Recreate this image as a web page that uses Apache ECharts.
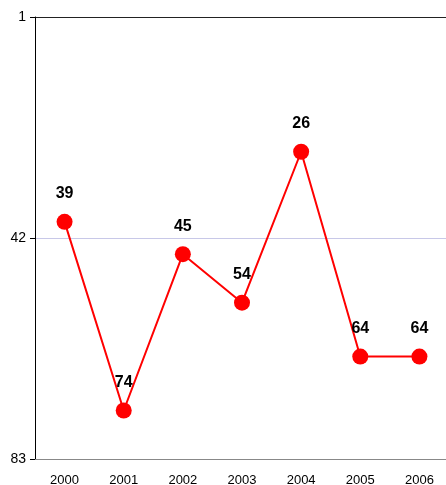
<!DOCTYPE html>
<html>
<head>
<meta charset="utf-8">
<script src="https://cdn.jsdelivr.net/npm/echarts@6/dist/echarts.min.js"></script>
<style>
  html, body { margin: 0; padding: 0; background: #fff; }
  #chart { width: 446px; height: 485px; }
</style>
</head>
<body>
<div id="chart"></div>
<script>
var years = ['2000', '2001', '2002', '2003', '2004', '2005', '2006'];
var ranks = [39, 74, 45, 54, 26, 64, 64];
var yTicks = [1, 42, 83];

var chart = echarts.init(document.getElementById('chart'));
var option = {
  animation: false,
  grid: { left: 35, right: -3, top: 17, bottom: 26, outerBoundsMode: 'none', containLabel: false },
  xAxis: {
    type: 'category',
    data: years,
    boundaryGap: true,
    axisLine: { lineStyle: { color: '#888', width: 1 } },
    axisTick: { show: false },
    axisLabel: { color: '#000', fontSize: 13, fontFamily: 'Liberation Sans', margin: 15 }
  },
  yAxis: {
    type: 'value',
    inverse: true,
    min: yTicks[0],
    max: yTicks[2],
    interval: yTicks[1] - yTicks[0],
    axisLine: { show: true, lineStyle: { color: '#000', width: 1 } },
    axisTick: { show: true, length: 5, lineStyle: { color: '#000' } },
    axisLabel: { color: '#000', fontSize: 14, fontFamily: 'Liberation Sans', margin: 9 },
    // top border dark, middle gridline pale, bottom hidden under x axis
    splitLine: { show: true, lineStyle: { color: ['#222', '#c8c8e8', '#888'], width: 1 } }
  },
  series: [{
    type: 'line',
    data: ranks,
    symbol: 'circle',
    symbolSize: 16,
    itemStyle: { color: '#ff0000' },
    lineStyle: { color: '#ff0000', width: 2 },
    label: {
      show: true,
      position: 'top',
      distance: 12,
      color: '#000',
      fontWeight: 'bold',
      fontSize: 16,
      fontFamily: 'Liberation Sans'
    }
  }]
};
chart.setOption(option);
</script>
</body>
</html>
